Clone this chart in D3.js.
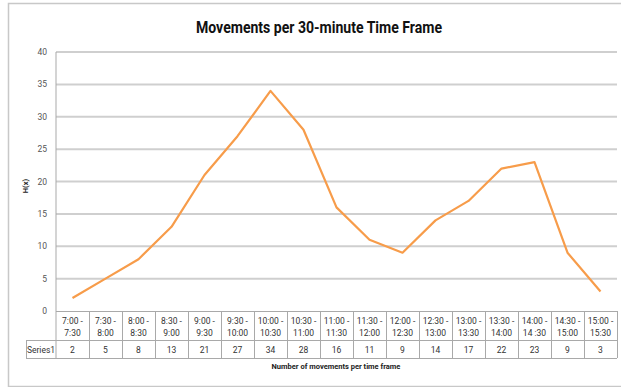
<!DOCTYPE html>
<html>
<head>
<meta charset="utf-8">
<script src="https://cdn.jsdelivr.net/npm/d3@7"></script>
<style>
  html, body { margin: 0; padding: 0; background: #fff; }
  svg { display: block; }
  text { font-family: Roboto, "Liberation Sans", Arial, sans-serif; }
</style>
</head>
<body>
<svg id="chart"></svg>
<script>
// Dữ liệu
const startTimes = ["7:00 -", "7:30 -", "8:00 -", "8:30 -", "9:00 -", "9:30 -", "10:00 -", "10:30 -", "11:00 -",
  "11:30 -", "12:00 -", "12:30 -", "13:00 -", "13:30 -", "14:00 -", "14:30 -", "15:00 -"];
const endTimes = ["7:30", "8:00", "8:30", "9:00", "9:30", "10:00", "10:30", "11:00", "11:30",
  "12:00", "12:30", "13:00", "13:30", "14:00", "14 :30", "15:00", "15:30"];
const series1 = [2, 5, 8, 13, 21, 27, 34, 28, 16, 11, 9, 14, 17, 22, 23, 9, 3];
const yTicks = [0, 5, 10, 15, 20, 25, 30, 35, 40];

const W = 621, H = 387;
const svg = d3.select("#chart").attr("width", W).attr("height", H);

// Khung ngoài
svg.append("rect")
  .attr("x", 8.5).attr("y", 3.5)
  .attr("width", W + 10).attr("height", 383)
  .attr("fill", "none").attr("stroke", "#c8c8c8").attr("stroke-width", 1.5);

const plot = { left: 56, right: 617, top: 52, bottom: 311 };
const row1H = 29, row2H = 18;

const categories = startTimes.map((s, i) => i);
const x = d3.scaleBand().domain(categories).range([plot.left, plot.right]);
const y = d3.scaleLinear().domain([0, 40]).range([plot.bottom, plot.top]);

// Tiêu đề
svg.append("text")
  .attr("x", 319).attr("y", 33)
  .attr("text-anchor", "middle")
  .attr("textLength", 246).attr("lengthAdjust", "spacingAndGlyphs")
  .style("font-size", "16px").style("font-weight", "bold")
  .attr("fill", "#111")
  .text("Movements per 30-minute Time Frame");

// Lưới ngang
svg.append("g")
  .selectAll("line")
  .data(yTicks.filter(d => d > 0))
  .enter().append("line")
  .attr("x1", plot.left).attr("x2", plot.right)
  .attr("y1", d => y(d)).attr("y2", d => y(d))
  .attr("stroke", "#cfcfcf").attr("stroke-width", 2);

// Nhãn trục y
svg.append("g")
  .selectAll("text")
  .data(yTicks)
  .enter().append("text")
  .attr("x", 47).attr("y", d => y(d) + 3)
  .attr("text-anchor", "end")
  .style("font-size", "8.5px").attr("fill", "#555")
  .text(d => d);

svg.append("text")
  .attr("transform", "translate(28,186) rotate(-90)")
  .attr("text-anchor", "middle")
  .style("font-size", "7.5px").style("font-weight", "bold").attr("fill", "#222")
  .text("H(x)");

// Bảng dữ liệu
const gridColor = "#a9a9a9";
const table = svg.append("g");
// trục dọc bên trái
table.append("line")
  .attr("x1", plot.left).attr("x2", plot.left)
  .attr("y1", plot.top).attr("y2", plot.bottom + row1H + row2H)
  .attr("stroke", gridColor);
// đường ngang
[plot.bottom, plot.bottom + row1H, plot.bottom + row1H + row2H].forEach((yy, k) => {
  table.append("line")
    .attr("x1", k === 0 ? plot.left : 26).attr("x2", plot.right)
    .attr("y1", yy + 0.5).attr("y2", yy + 0.5)
    .attr("stroke", gridColor);
});
table.append("line")
  .attr("x1", 26.5).attr("x2", 26.5)
  .attr("y1", plot.bottom + row1H).attr("y2", plot.bottom + row1H + row2H)
  .attr("stroke", gridColor);
table.selectAll(".vdiv")
  .data(categories)
  .enter().append("line")
  .attr("class", "vdiv")
  .attr("x1", d => x(d) + x.bandwidth() + 0.5).attr("x2", d => x(d) + x.bandwidth() + 0.5)
  .attr("y1", plot.bottom).attr("y2", plot.bottom + row1H + row2H)
  .attr("stroke", gridColor);

table.selectAll(".cat1")
  .data(categories)
  .enter().append("text")
  .attr("x", d => x(d) + x.bandwidth() / 2).attr("y", plot.bottom + 13)
  .attr("text-anchor", "middle").style("font-size", "8.5px").attr("fill", "#333")
  .text(d => startTimes[d]);
table.selectAll(".cat2")
  .data(categories)
  .enter().append("text")
  .attr("x", d => x(d) + x.bandwidth() / 2).attr("y", plot.bottom + 25)
  .attr("text-anchor", "middle").style("font-size", "8.5px").attr("fill", "#333")
  .text(d => endTimes[d]);
table.selectAll(".val")
  .data(series1)
  .enter().append("text")
  .attr("x", (d, i) => x(i) + x.bandwidth() / 2).attr("y", plot.bottom + row1H + 13)
  .attr("text-anchor", "middle").style("font-size", "8.5px").attr("fill", "#333")
  .text(d => d);
table.append("text")
  .attr("x", 41).attr("y", plot.bottom + row1H + 12.5)
  .attr("text-anchor", "middle").style("font-size", "8.5px").attr("fill", "#333")
  .text("Series1");

svg.append("text")
  .attr("x", 336).attr("y", 369)
  .attr("text-anchor", "middle")
  .style("font-size", "7.5px").style("font-weight", "bold").attr("fill", "#222")
  .text("Number of movements per time frame");

// Đường dữ liệu
const line = d3.line()
  .x((d, i) => x(i) + x.bandwidth() / 2)
  .y(d => y(d));
svg.append("path")
  .datum(series1)
  .attr("d", line)
  .attr("fill", "none")
  .attr("stroke", "#f79c4a")
  .attr("stroke-width", 2.2)
  .attr("stroke-linejoin", "round");
</script>
</body>
</html>
